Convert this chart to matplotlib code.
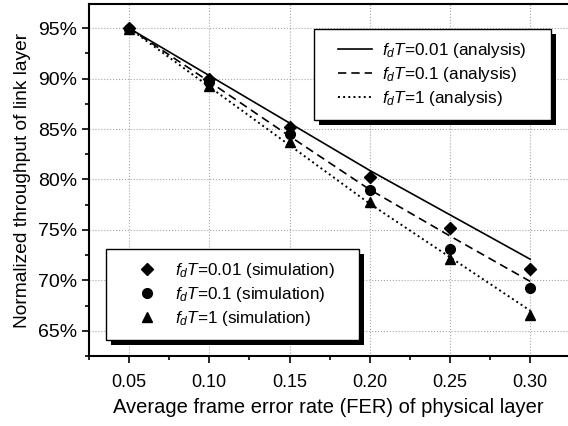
import matplotlib
matplotlib.use('Agg')
import matplotlib.pyplot as plt
from matplotlib.patches import Rectangle
from matplotlib.ticker import MultipleLocator, FuncFormatter

plt.rcParams['font.family'] = ['Liberation Sans', 'DejaVu Sans']
plt.rcParams['mathtext.fontset'] = 'custom'
plt.rcParams['mathtext.rm'] = 'Liberation Sans'
plt.rcParams['mathtext.it'] = 'Liberation Sans:italic'

fer = [0.05, 0.10, 0.15, 0.20, 0.25, 0.30]

# analysis curves (%)
ana_001 = [95.0, 90.3, 85.6, 80.9, 76.5, 72.1]
ana_01 = [95.0, 89.7, 84.3, 79.0, 74.4, 69.9]
ana_1 = [95.0, 89.2, 83.4, 77.6, 72.3, 67.0]

# simulation points (%)
sim_001 = [95.0, 90.0, 85.2, 80.2, 75.2, 71.1]
sim_01 = [94.9, 89.7, 84.5, 79.0, 73.1, 69.2]
sim_1 = [94.9, 89.3, 83.7, 77.8, 72.1, 66.6]

ana_labels = [r'$f_dT$=0.01 (analysis)', r'$f_dT$=0.1 (analysis)', r'$f_dT$=1 (analysis)']
sim_labels = [r'$f_dT$=0.01 (simulation)', r'$f_dT$=0.1 (simulation)', r'$f_dT$=1 (simulation)']

fig = plt.figure(figsize=(5.68, 4.26), dpi=100)
ax = fig.add_axes([89 / 568, 1 - 356 / 426, 479 / 568, 352 / 426])

l1, = ax.plot(fer, ana_001, '-', color='black', lw=1.2)
l2, = ax.plot(fer, ana_01, '--', color='black', lw=1.2, dashes=(5, 3))
l3, = ax.plot(fer, ana_1, ':', color='black', lw=1.4)

p1, = ax.plot(fer, sim_001, 'D', color='black', ms=6.5, ls='none')
p2, = ax.plot(fer, sim_01, 'o', color='black', ms=7, ls='none')
p3, = ax.plot(fer, sim_1, '^', color='black', ms=7.5, ls='none')

ax.set_xlim(0.025, 0.3236)
ax.set_ylim(62.5, 97.4)
ax.xaxis.set_major_locator(MultipleLocator(0.05))
ax.xaxis.set_minor_locator(MultipleLocator(0.025))
ax.yaxis.set_major_locator(MultipleLocator(5))
ax.yaxis.set_minor_locator(MultipleLocator(2.5))
ax.xaxis.set_major_formatter(FuncFormatter(lambda v, p: f'{v:.2f}'))
ax.yaxis.set_major_formatter(FuncFormatter(lambda v, p: f'{v:.0f}%'))
ax.tick_params(which='both', direction='out', labelsize=13, width=1.2)
ax.tick_params(axis='y', labelsize=14)
ax.tick_params(which='major', length=5)
ax.tick_params(which='minor', length=3)
ax.tick_params(axis='x', pad=8)
for s in ['left', 'bottom', 'top']:
    ax.spines[s].set_linewidth(1.5)
ax.spines['right'].set_visible(False)
ax.grid(True, ls=':', color='gray', lw=0.8, alpha=0.7)

ax.set_xlabel('Average frame error rate (FER) of physical layer', fontsize=14.5, labelpad=5)
ax.set_ylabel('Normalized throughput of link layer', fontsize=13.8, labelpad=5)

leg_kw = dict(fontsize=12.3, frameon=False, borderpad=0, borderaxespad=0,
              handlelength=2.0, handletextpad=0.6, labelspacing=0.3)
leg1 = ax.legend([l1, l2, l3], ana_labels, loc='upper left',
                 bbox_to_anchor=(0.52, 0.895), **leg_kw)
leg1.set_zorder(5)
ax.add_artist(leg1)
leg2 = ax.legend([p1, p2, p3], sim_labels, loc='upper left',
                 bbox_to_anchor=(0.086, 0.27), **leg_kw)
leg2.set_zorder(5)

# boxes with a solid black drop shadow, as in the original
fig.canvas.draw()
inv = ax.transAxes.inverted()
padx, pady, off = 24, 12, 5
for leg in (leg1, leg2):
    bb = leg.get_window_extent()
    (x0, y0) = inv.transform((bb.x0 - padx, bb.y0 - pady))
    (x1, y1) = inv.transform((bb.x1 + padx, bb.y1 + pady))
    (sx, sy) = inv.transform((bb.x0 - padx + off, bb.y0 - pady - off))
    ax.add_patch(Rectangle((sx, sy), x1 - x0, y1 - y0, transform=ax.transAxes,
                           facecolor='black', edgecolor='none', zorder=4))
    ax.add_patch(Rectangle((x0, y0), x1 - x0, y1 - y0, transform=ax.transAxes,
                           facecolor='white', edgecolor='black', lw=1.0, zorder=4.5))

fig.savefig('out.png', dpi=100)
